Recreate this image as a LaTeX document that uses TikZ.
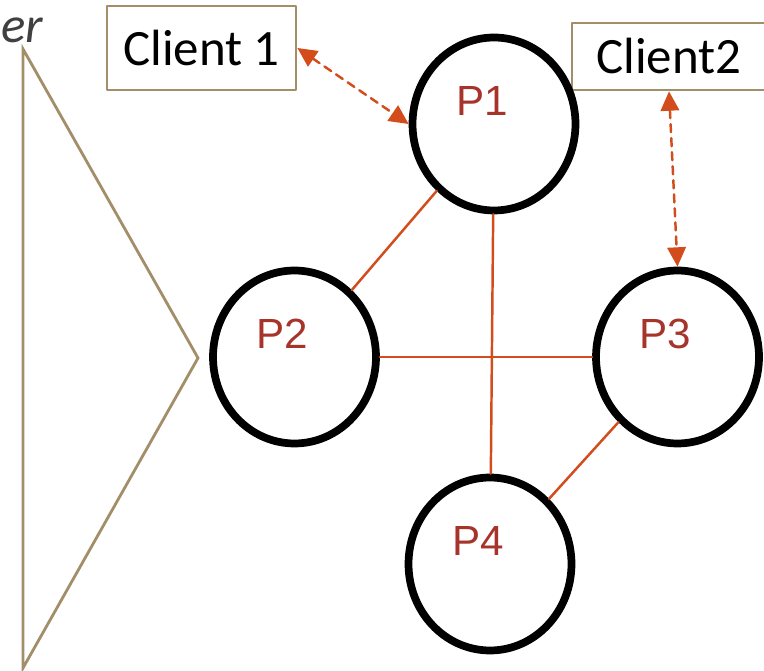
\documentclass[tikz,border=0pt]{standalone}
\usepackage{fontspec}
\setmainfont{Carlito}
\newfontfamily\procfont{Liberation Sans}
\usepackage{tikz}
\usetikzlibrary{arrows.meta}
\usetikzlibrary{positioning}
\usetikzlibrary{shapes.geometric}
\definecolor{tanline}{RGB}{163,142,106}
\definecolor{linkred}{RGB}{210,76,28}
\definecolor{procred}{RGB}{166,52,42}
\definecolor{servgray}{RGB}{64,64,64}
\tikzset{
  proc/.style={ellipse,draw=black,line width=4.4pt,minimum width=3.26cm,minimum height=3.46cm,inner sep=0pt,
    label={[procred,font=\procfont\fontsize{24}{28}\selectfont,xshift=-0.24cm,yshift=0.46cm]center:#1}},
  client/.style={rectangle,draw=tanline,line width=1.6pt,inner sep=0pt,font=\fontsize{29}{34}\selectfont},
  link/.style={draw=linkred,line width=1.4pt},
  msg/.style={draw=linkred,line width=1.4pt,dash pattern=on 4.6pt off 3.4pt,<->}
}
\begin{document}
\begin{tikzpicture}[line cap=round,line join=round,>={Triangle[length=11pt,width=10.5pt]},x=0.02cm,y=-0.02cm]
\useasboundingbox (0,0) rectangle (764,671);
\clip (0,0) rectangle (764,671);
% server side
\draw[tanline,line width=1.6pt,line cap=butt,line join=miter] (23,49)-- (198,358)-- (23,668)-- cycle;
\node[servgray,anchor=base west,inner sep=0pt,font=\itshape\fontsize{29}{34}\selectfont] (serv) at (1,43) {er};
% clients
\node[client,minimum width=3.78cm,minimum height=1.68cm] (c1) at (201.5,48) {Client 1};
\node[client,minimum width=3.88cm,minimum height=1.34cm] (c2) at (669,56.5) {Client2};
% processes
\node[proc=P1] (p1) at (494,124) {};
\node[proc=P2] (p2) at (294.5,357) {};
\node[proc=P3] (p3) at (677.5,357) {};
\node[proc=P4] (p4) at (490,564) {};
% links
\draw[link] (p1) -- (p2);
\draw[link] (p1) -- (p4);
\draw[link] (p2) -- (p3);
\draw[link] (p3) -- (p4);
% requests
\draw[msg] (c1.east) -- (p1.west);
\draw[msg] (c2.south) -- (p3.north);
\end{tikzpicture}
\end{document}
